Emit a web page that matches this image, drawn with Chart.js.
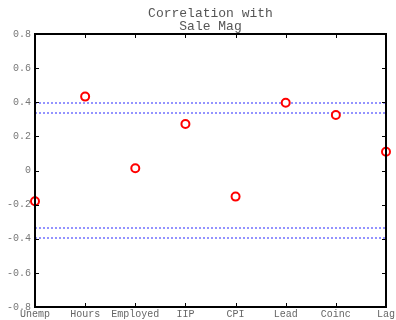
<!DOCTYPE html>
<html>
<head>
<meta charset="utf-8">
<script src="https://cdn.jsdelivr.net/npm/chart.js@4"></script>
<style>
  html, body { margin: 0; padding: 0; background: #fff; }
  #wrap { width: 396px; height: 320px; }
</style>
</head>
<body>
<div id="wrap"><canvas id="chart"></canvas></div>
<script>
// categories and correlation values
const categories = ['Unemp', 'Hours', 'Employed', 'IIP', 'CPI', 'Lead', 'Coinc', 'Lag'];
const correlations = [-0.18, 0.433, 0.013, 0.273, -0.153, 0.397, 0.325, 0.11];
const titleLines = ['Correlation with', 'Sale Mag'];

// significance bands (dotted blue lines)
const bandOuter = 0.396;
const bandInner = 0.337;
const bandLevels = [bandOuter, bandInner, -bandInner, -bandOuter];

const monoFont = '"Liberation Mono", "DejaVu Sans Mono", monospace';

//Draws the black frame, the inward tick marks and the two-line title
const framePlugin = {
    id: 'frame',
    afterDraw(chart) {
        const ctx = chart.ctx;
        const area = chart.chartArea;
        const xScale = chart.scales.x;
        const yScale = chart.scales.y;
        ctx.save();
        ctx.strokeStyle = '#000';
        ctx.lineWidth = 1;
        ctx.beginPath();
        xScale.ticks.forEach((t, i) => {
            const px = Math.round(xScale.getPixelForTick(i)) + 0.5;
            ctx.moveTo(px, area.bottom);
            ctx.lineTo(px, area.bottom - 4);
            ctx.moveTo(px, area.top);
            ctx.lineTo(px, area.top + 4);
        });
        yScale.ticks.forEach((t, i) => {
            const py = Math.round(yScale.getPixelForTick(i)) + 0.5;
            ctx.moveTo(area.left, py);
            ctx.lineTo(area.left + 4, py);
            ctx.moveTo(area.right, py);
            ctx.lineTo(area.right - 4, py);
        });
        ctx.stroke();
        ctx.lineWidth = 2;
        ctx.strokeRect(area.left, area.top, area.right - area.left, area.bottom - area.top);

        ctx.fillStyle = '#555';
        ctx.font = '13px ' + monoFont;
        ctx.textAlign = 'center';
        ctx.textBaseline = 'alphabetic';
        const cx = (area.left + area.right) / 2;
        ctx.fillText(titleLines[0], cx, 17);
        ctx.fillText(titleLines[1], cx, 30);
        ctx.restore();
    }
};

const bandDatasets = bandLevels.map((level) => {
    return {
        data: categories.map(() => level),
        borderColor: '#7070ff',
        borderWidth: 1.5,
        borderDash: [2, 2],
        pointRadius: 0,
        fill: false,
        order: 2
    };
});

const correlationChart = new Chart('chart', {
    type: 'line',
    data: {
        labels: categories,
        datasets: [{
            data: correlations,
            showLine: false,
            pointRadius: 4,
            pointBorderWidth: 2,
            pointBorderColor: '#ff0000',
            pointBackgroundColor: '#ffffff',
            order: 1
        }].concat(bandDatasets)
    },
    options: {
        responsive: true,
        maintainAspectRatio: false,
        animation: false,
        clip: false,
        layout: { padding: { top: 34, right: 10, left: 0, bottom: 0 } },
        plugins: {
            legend: { display: false },
            title: { display: false },
            tooltip: { enabled: false }
        },
        scales: {
            x: {
                type: 'category',
                offset: false,
                grid: { display: false, drawTicks: false },
                border: { display: false },
                ticks: {
                    color: '#666',
                    font: { family: monoFont, size: 10 },
                    padding: 1,
                    maxRotation: 0,
                    autoSkip: false
                },
                afterFit(scale) {
                    scale.height = 13;
                    scale.paddingLeft = 0;
                    scale.paddingRight = 0;
                }
            },
            y: {
                min: -0.8,
                max: 0.8,
                grid: { display: false, drawTicks: false },
                border: { display: false },
                ticks: {
                    stepSize: 0.2,
                    color: '#777',
                    font: { family: monoFont, size: 10 },
                    padding: 4,
                    callback: (v) => String(+v.toFixed(1))
                },
                afterFit(scale) {
                    scale.width = 35;
                    scale.paddingTop = 0;
                    scale.paddingBottom = 0;
                }
            }
        }
    },
    plugins: [framePlugin]
});
</script>
</body>
</html>
